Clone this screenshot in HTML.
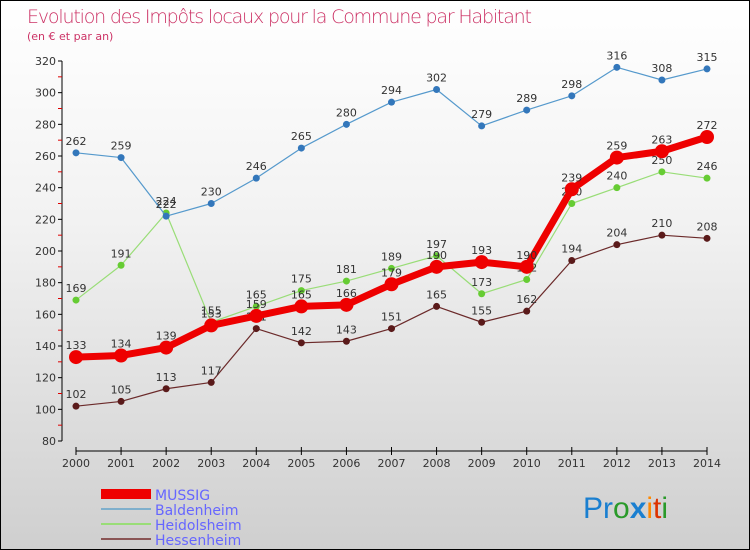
<!DOCTYPE html>
<html><head><meta charset="utf-8"><style>
body{margin:0;}
#c{width:748px;height:548px;border:1px solid #000;background:linear-gradient(#fff 0%,#f2f2f2 40%,#cfcfcf 100%);position:relative;font-family:"DejaVu Sans","Liberation Sans",sans-serif;overflow:hidden}
</style></head><body>
<div id="c">
<svg id="s" width="748" height="548" xmlns="http://www.w3.org/2000/svg">
<text x="26" y="22" font-size="19" fill="#cc3366" font-family="DejaVu Sans,sans-serif" font-weight="200" textLength="505">Evolution des Impôts locaux pour la Commune par Habitant</text>
<text x="26" y="39" font-size="11" fill="#cc3366">(en € et par an)</text>
<g id="g"></g>
<text x="582" y="517" font-size="30" font-family="Liberation Sans,sans-serif"><tspan fill="#1a7fd0">Pr</tspan><tspan fill="#2a9a2a">o</tspan><tspan fill="#1a7fd0" font-weight="bold">x</tspan><tspan fill="#ff8800">i</tspan><tspan fill="#dd3300">t</tspan><tspan fill="#2a9a2a">i</tspan></text>
</svg>
</div>
<script>
const years=[2000,2001,2002,2003,2004,2005,2006,2007,2008,2009,2010,2011,2012,2013,2014];
const yTicks=[80,100,120,140,160,180,200,220,240,260,280,300,320];
const mussig=[133,134,139,153,159,165,166,179,190,193,190,239,259,263,272];
const baldenheim=[262,259,222,230,246,265,280,294,302,279,289,298,316,308,315];
const heidolsheim=[169,191,224,155,165,175,181,189,197,173,182,230,240,250,246];
const hessenheim=[102,105,113,117,151,142,143,151,165,155,162,194,204,210,208];
const names=["MUSSIG","Baldenheim","Heidolsheim","Hessenheim"];
const NS="http://www.w3.org/2000/svg";
const g=document.getElementById('g');
const X=i=>75+i*(706-75)/(years.length-1);
const Y=v=>440-(v-80)*(380/240);
function mk(t,a){const e=document.createElementNS(NS,t);for(const k in a)e.setAttribute(k,a[k]);g.appendChild(e);return e;}
// axes
let ya=mk('line',{x1:61,y1:Y(320),x2:61,y2:440,stroke:'#000','stroke-width':1});


let xa=mk('line',{x1:75,y1:450,x2:706,y2:450,stroke:'#000','stroke-width':1});


yTicks.forEach(v=>{
 mk('line',{x1:57,y1:Y(v),x2:61,y2:Y(v),stroke:'#000'});
 if(v<320)mk('line',{x1:57,y1:Y(v+10),x2:61,y2:Y(v+10),stroke:'#d00'});
 const t=mk('text',{x:55,y:Y(v)+4,'font-size':11,fill:'#333','text-anchor':'end'});t.textContent=v;
 
 
});
years.forEach((y,i)=>{
 mk('line',{x1:X(i),y1:446,x2:X(i),y2:454,stroke:'#000'});
 const t=mk('text',{x:X(i),y:466,'font-size':11,fill:'#333','text-anchor':'middle'});t.textContent=y;
 
 
});
const series=[[hessenheim,'#6b2a2a','#5a1a1a',1.2,3.5,'hessenheim'],[heidolsheim,'#99dd77','#66cc33',1.2,3.5,'heidolsheim'],[baldenheim,'#5599cc','#3377bb',1.2,3.5,'baldenheim'],[mussig,'#ee0000','#ee0000',7,7,'mussig']];
series.forEach(([d,c,pc,w,r,n])=>{
 const p=mk('polyline',{points:d.map((v,i)=>X(i)+','+Y(v)).join(' '),fill:'none',stroke:c,'stroke-width':w,'stroke-linejoin':'round'});
 
 
 d.forEach((v,i)=>{
  const ci=mk('circle',{cx:X(i),cy:Y(v),r:r,fill:pc});
  
  
  const t=mk('text',{x:X(i),y:Y(v)-8,'font-size':11,fill:'#333','text-anchor':'middle'});t.textContent=v;
  
  
 });
});
// legend
const lc=['#ee0000','#7fafcc','#99dd77','#8a5555'],lw=[10,2,2,2];
names.forEach((n,i)=>{
 const y=493+i*15;
 const l=mk('line',{x1:100,y1:y,x2:150,y2:y,stroke:lc[i],'stroke-width':lw[i]});
 
 
 const t=mk('text',{x:154,y:y+6,'font-size':14,fill:'#6666ff'});t.textContent=n;
 
 
});
</script>
</body></html>
